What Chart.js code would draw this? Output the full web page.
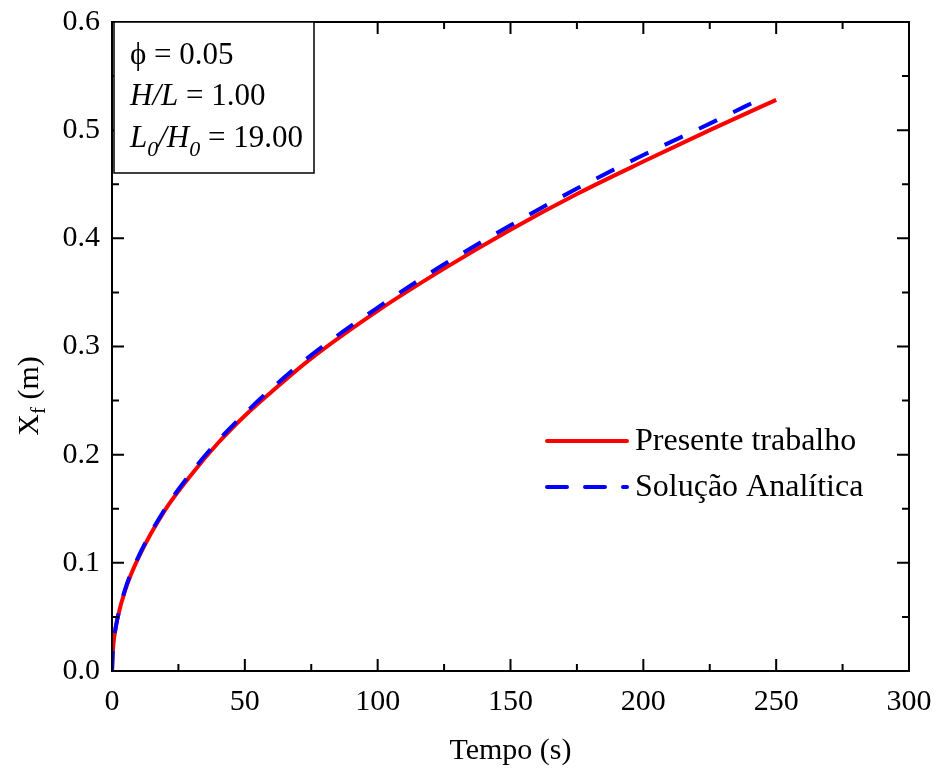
<!DOCTYPE html>
<html><head><meta charset="utf-8">
<script src="https://cdn.jsdelivr.net/npm/chart.js@4/dist/chart.umd.min.js"></script>
<style>html,body{margin:0;padding:0;background:#fff}#c{display:block}</style>
</head><body>
<canvas id="c" width="937" height="776"></canvas>
<script>
const presenteT = [0, 0.3, 1, 2, 5, 10, 20, 30, 40, 50, 60, 75, 100, 125, 150, 175, 200, 225, 250];
const presenteX = [0, 0.018, 0.034, 0.048, 0.075, 0.105, 0.149, 0.182, 0.211, 0.236, 0.258, 0.289, 0.333, 0.372, 0.408, 0.441, 0.471, 0.500, 0.528];
const analiticaT = [0, 0.3, 1, 2, 5, 10, 20, 30, 40, 50, 60, 75, 100, 125, 150, 175, 200, 225, 245];
const analiticaX = [0, 0.018, 0.034, 0.048, 0.076, 0.106, 0.150, 0.184, 0.213, 0.238, 0.261, 0.292, 0.336, 0.376, 0.412, 0.446, 0.477, 0.506, 0.530];
const seriesNames = ['Presente trabalho', 'Solução Analítica'];
const xTicks = [0, 50, 100, 150, 200, 250, 300];
const yTicks = [0.0, 0.1, 0.2, 0.3, 0.4, 0.5, 0.6];
const annotLines = ['ϕ = 0.05', 'H/L = 1.00', 'L0/H0 = 19.00'];
const xTitle = 'Tempo (s)';

const FONT = '"Liberation Serif", "Times New Roman", serif';

const framePlugin = {
  id: 'frame',
  afterDatasetsDraw(chart) {
    const {ctx, chartArea: a, scales: {x, y}} = chart;
    ctx.save();
    ctx.strokeStyle = '#000';
    ctx.lineWidth = 2;
    ctx.strokeRect(a.left, a.top, a.right - a.left, a.bottom - a.top);
    ctx.beginPath();
    for (let v = 0; v <= 300; v += 25) {
      const px = x.getPixelForValue(v);
      const L = (v % 50 === 0) ? 12 : 7;
      ctx.moveTo(px, a.bottom); ctx.lineTo(px, a.bottom - L);
      ctx.moveTo(px, a.top); ctx.lineTo(px, a.top + L);
    }
    for (let i = 0; i <= 12; i++) {
      const v = i * 0.05;
      const py = y.getPixelForValue(v);
      const L = (i % 2 === 0) ? 12 : 7;
      ctx.moveTo(a.left, py); ctx.lineTo(a.left + L, py);
      ctx.moveTo(a.right, py); ctx.lineTo(a.right - L, py);
    }
    ctx.stroke();

    // annotation box
    const bx = a.left + 2, by = a.top, bw = 200, bh = 151;
    ctx.fillStyle = '#fff';
    ctx.fillRect(bx, by, bw, bh);
    ctx.lineWidth = 1.5;
    ctx.strokeRect(bx, by, bw, bh);
    ctx.fillStyle = '#000';
    ctx.textBaseline = 'alphabetic';
    ctx.textAlign = 'left';
    const fs = 31;
    const normal = fs + 'px ' + FONT, ital = 'italic ' + fs + 'px ' + FONT, sub = 'italic 22px ' + FONT;
    let tx = a.left + 18;
    ctx.font = normal;
    ctx.fillText(annotLines[0], tx, by + 42);
    let cx = tx, base = by + 83;
    ctx.font = ital; ctx.fillText('H/L', cx, base); cx += ctx.measureText('H/L').width;
    ctx.font = normal; ctx.fillText(' = 1.00', cx, base);
    cx = tx; base = by + 125;
    ctx.font = ital; ctx.fillText('L', cx, base); cx += ctx.measureText('L').width;
    ctx.font = sub; ctx.fillText('0', cx, base + 9); cx += ctx.measureText('0').width;
    ctx.font = ital; ctx.fillText('/H', cx, base); cx += ctx.measureText('/H').width;
    ctx.font = sub; ctx.fillText('0', cx, base + 9); cx += ctx.measureText('0').width;
    ctx.font = normal; ctx.fillText(' = 19.00', cx, base);

    // legend
    const ds = chart.data.datasets;
    const lx1 = 547, lx2 = 627;
    const rows = [441, 487];
    ds.forEach((d, i) => {
      ctx.strokeStyle = d.borderColor;
      ctx.lineWidth = d.borderWidth;
      ctx.lineCap = 'round';
      ctx.setLineDash(d.borderDash || []);
      ctx.beginPath();
      ctx.moveTo(lx1, rows[i]); ctx.lineTo(lx2, rows[i]);
      ctx.stroke();
      ctx.setLineDash([]);
      ctx.font = '32px ' + FONT;
      ctx.fillStyle = '#000';
      ctx.textBaseline = 'middle';
      ctx.fillText(d.label, 635, rows[i] + 1);
    });

    // y title
    ctx.save();
    ctx.translate(30, 396);
    ctx.rotate(-Math.PI / 2);
    ctx.textBaseline = 'middle';
    ctx.textAlign = 'left';
    const tf = '30px ' + FONT, sf = '21px ' + FONT;
    ctx.font = tf;
    const w1 = ctx.measureText('X').width;
    ctx.font = sf;
    const w2 = ctx.measureText('f').width;
    ctx.font = tf;
    const w3 = ctx.measureText(' (m)').width;
    let sx = -(w1 + w2 + w3) / 2;
    ctx.fillText('X', sx, 0); sx += w1;
    ctx.font = sf; ctx.fillText('f', sx, 9); sx += w2;
    ctx.font = tf; ctx.fillText(' (m)', sx, 0);
    ctx.restore();

    // x title
    ctx.font = '30px ' + FONT;
    ctx.fillStyle = '#000';
    ctx.textAlign = 'center';
    ctx.textBaseline = 'middle';
    ctx.fillText(xTitle, (a.left + a.right) / 2, 751);

    ctx.restore();
  }
};

new Chart(document.getElementById('c'), {
  type: 'line',
  data: {
    datasets: [
      {
        label: seriesNames[0],
        data: presenteT.map((t, i) => ({x: t, y: presenteX[i]})),
        borderColor: '#ff0000', borderWidth: 4, pointRadius: 0,
        cubicInterpolationMode: 'monotone', order: 1, fill: false
      },
      {
        label: seriesNames[1],
        data: analiticaT.map((t, i) => ({x: t, y: analiticaX[i]})),
        borderColor: '#0000ff', borderWidth: 4, borderDash: [20, 18], pointRadius: 0,
        cubicInterpolationMode: 'monotone', order: 0, fill: false
      }
    ]
  },
  options: {
    responsive: false, animation: false,
    layout: {padding: {top: 22, right: 28, left: 0, bottom: 0}},
    plugins: {legend: {display: false}, tooltip: {enabled: false}},
    scales: {
      x: {
        type: 'linear', min: 0, max: 300,
        afterBuildTicks: s => { s.ticks = xTicks.map(v => ({value: v})); },
        afterFit: s => { s.height = 105; s.paddingLeft = 0; s.paddingRight = 0; },
        grid: {display: false, drawTicks: false},
        border: {display: false},
        ticks: {color: '#000', font: {family: FONT, size: 30}, padding: 13, maxRotation: 0}
      },
      y: {
        type: 'linear', min: 0, max: 0.6,
        afterBuildTicks: s => { s.ticks = yTicks.map(v => ({value: v})); },
        afterFit: s => { s.width = 112; s.paddingTop = 0; s.paddingBottom = 0; },
        grid: {display: false, drawTicks: false},
        border: {display: false},
        ticks: {color: '#000', font: {family: FONT, size: 30}, padding: 12,
          callback: v => Number(v).toFixed(1)}
      }
    }
  },
  plugins: [framePlugin]
});
</script>
</body></html>
